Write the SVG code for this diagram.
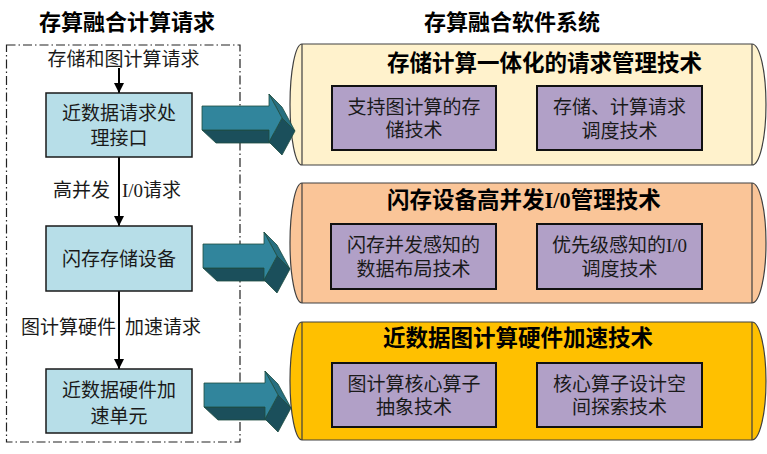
<svg xmlns="http://www.w3.org/2000/svg" width="767" height="454" viewBox="0 0 767 454">
<defs>
<marker id="ah" markerUnits="userSpaceOnUse" markerWidth="10" markerHeight="10" refX="10" refY="5" orient="auto">
<path d="M0,0 L10,5 L0,10 Z" fill="#000"/>
</marker>
<style>
text{font-family:"Liberation Serif","Noto Sans CJK SC",serif;fill:#1a1a1a}
.hd{font-size:22px;font-weight:bold;fill:#000;text-anchor:middle}
.ct{font-size:22.5px;font-weight:bold;fill:#000}
.t{font-size:19px;text-anchor:middle}
.lb{font-size:19px}
.blue{fill:#b7dee8;stroke:#1a1a1a;stroke-width:1.5}
.pur{fill:#b1a0c7;stroke:#111;stroke-width:2}
.cyl{stroke:#404040;stroke-width:1.2}
.edge{fill:none;stroke:#404040;stroke-width:1.2}
.conn{stroke:#000;stroke-width:2;fill:none;marker-end:url(#ah)}
.frame{fill:none;stroke:#222;stroke-width:1.2;stroke-dasharray:9 3 1.5 3}
.af{fill:#31859c;stroke:#1e4d40;stroke-width:0.8}
.am{fill:#276f80;stroke:#1e4d40;stroke-width:0.8}
.ad{fill:#1b4f5b;stroke:#1e4d40;stroke-width:0.8}
</style>
</defs>
<rect width="767" height="454" fill="#fff"/>

<text class="hd" x="127" y="30">存算融合计算请求</text>
<text class="hd" x="512" y="30">存算融合软件系统</text>

<rect id="frame" class="frame" x="6.5" y="45" width="233.5" height="397"/>

<g id="connectors">
<line class="conn" x1="119" y1="68" x2="119" y2="93"/>
<line class="conn" x1="119" y1="157" x2="119" y2="226"/>
<line class="conn" x1="119" y1="291" x2="119" y2="369"/>
<text class="lb" y="197"><tspan x="53">高并发</tspan><tspan x="122">I/0请求</tspan></text>
<text class="lb" y="334"><tspan x="21">图计算硬件</tspan><tspan x="125">加速请求</tspan></text>
</g>

<text id="input" class="t" x="123.5" y="65.5">存储和图计算请求</text>

<g id="box1">
<rect class="blue" x="46" y="93" width="146" height="64"/>
<text class="t" x="119" y="120">近数据请求处</text>
<text class="t" x="119" y="145">理接口</text>
</g>
<g id="box2">
<rect class="blue" x="46" y="226" width="146" height="65"/>
<text class="t" x="119" y="266">闪存存储设备</text>
</g>
<g id="box3">
<rect class="blue" x="46" y="369" width="146" height="64"/>
<text class="t" x="119" y="397">近数据硬件加</text>
<text class="t" x="119" y="423">速单元</text>
</g>

<g id="cyl1">
<path class="cyl" fill="#fff2cc" d="M302,44 L752,44 A14,60.5 0 0 1 752,165 L302,165 A12,60.5 0 0 1 302,44 Z"/>
<path class="edge" d="M302,44 V165 M752,44 V165"/>
<text class="ct" x="387" y="71">存储计算一体化的请求管理技术</text>
<g id="c1a">
<rect class="pur" x="332" y="86" width="164" height="64"/>
<text class="t" x="414" y="113.5">支持图计算的存</text>
<text class="t" x="414" y="137">储技术</text>
</g>
<g id="c1b">
<rect class="pur" x="537" y="86" width="165" height="64"/>
<text class="t" x="619.5" y="114">存储、计算请求</text>
<text class="t" x="619.5" y="138">调度技术</text>
</g>
</g>

<g id="cyl2">
<path class="cyl" fill="#fac598" d="M302,183 L752,183 A14,60 0 0 1 752,303 L302,303 A12,60 0 0 1 302,183 Z"/>
<path class="edge" d="M302,183 V303 M752,183 V303"/>
<text class="ct" x="387" y="208">闪存设备高并发I/0管理技术</text>
<g id="c2a">
<rect class="pur" x="331" y="224" width="165" height="65"/>
<text class="t" x="413.5" y="252">闪存并发感知的</text>
<text class="t" x="413.5" y="275.5">数据布局技术</text>
</g>
<g id="c2b">
<rect class="pur" x="537" y="224" width="165" height="65"/>
<text class="t" x="619.5" y="252">优先级感知的I/0</text>
<text class="t" x="619.5" y="275.5">调度技术</text>
</g>
</g>

<g id="cyl3">
<path class="cyl" fill="#ffc000" d="M302,322 L752,322 A14,59 0 0 1 752,440 L302,440 A12,59 0 0 1 302,322 Z"/>
<path class="edge" d="M302,322 V440 M752,322 V440"/>
<text class="ct" x="383" y="346">近数据图计算硬件加速技术</text>
<g id="c3a">
<rect class="pur" x="332" y="363" width="164" height="64"/>
<text class="t" x="414" y="390.5">图计算核心算子</text>
<text class="t" x="414" y="413.5">抽象技术</text>
</g>
<g id="c3b">
<rect class="pur" x="537" y="363" width="165" height="64"/>
<text class="t" x="619.5" y="390.5">核心算子设计空</text>
<text class="t" x="619.5" y="413.5">间探索技术</text>
</g>
</g>

<g id="arrow1" transform="translate(202,106)">
<polygon class="ad" points="0,24 67,24 80,37 14,37"/>
<polygon class="am" points="67,-12 80,12 93,25 80,1"/>
<polygon class="ad" points="80,12 67,36 80,49 93,25"/>
<polygon class="af" points="0,0 67,0 67,-12 80,12 67,36 67,24 0,24"/>
</g>
<g id="arrow2" transform="translate(203,244)">
<polygon class="ad" points="0,24 61,24 74,37 14,37"/>
<polygon class="am" points="61,-12 74,12 87,25 74,1"/>
<polygon class="ad" points="74,12 61,36 74,49 87,25"/>
<polygon class="af" points="0,0 61,0 61,-12 74,12 61,36 61,24 0,24"/>
</g>
<g id="arrow3" transform="translate(204,383)">
<polygon class="ad" points="0,24 61,24 74,37 14,37"/>
<polygon class="am" points="61,-12 74,12 87,25 74,1"/>
<polygon class="ad" points="74,12 61,36 74,49 87,25"/>
<polygon class="af" points="0,0 61,0 61,-12 74,12 61,36 61,24 0,24"/>
</g>
</svg>
